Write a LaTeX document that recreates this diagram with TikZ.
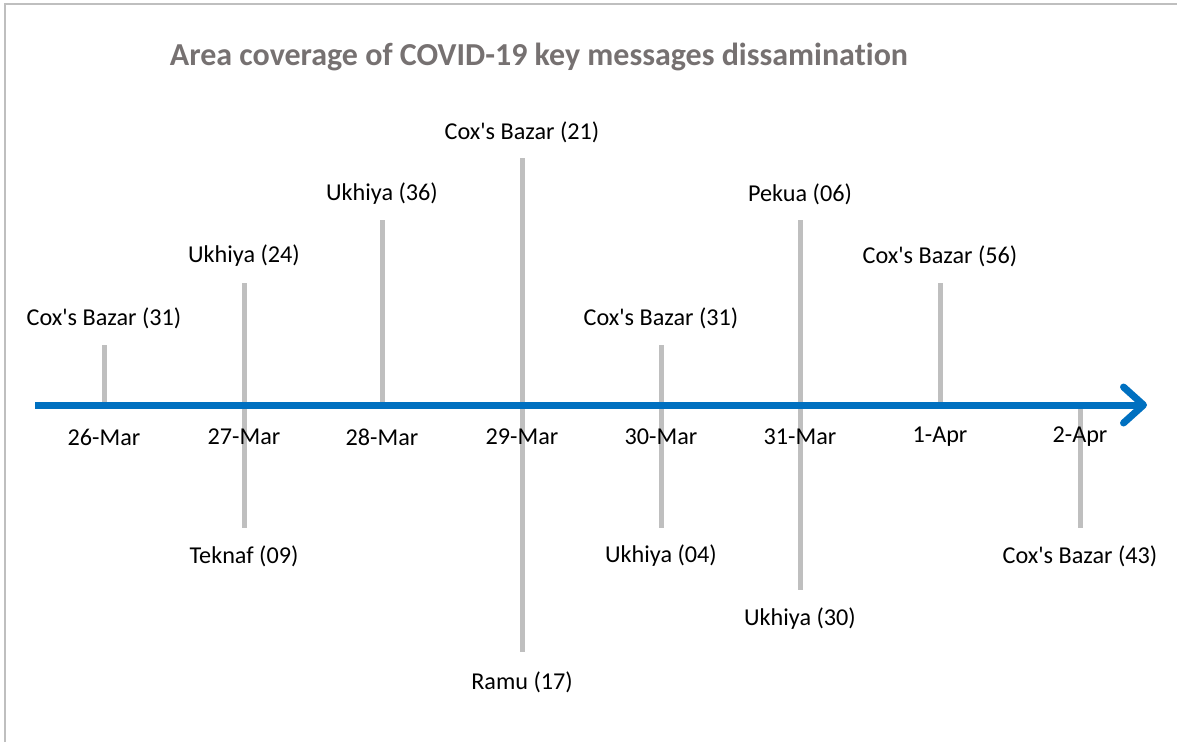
\documentclass[tikz,border=0pt]{standalone}
\usepackage{fontspec}
\setmainfont{Carlito}[Ligatures={TeXOff,CommonOff}]
\usetikzlibrary{arrows.meta}

\definecolor{axisblue}{HTML}{0070C0}
\definecolor{stemgray}{HTML}{BFBFBF}
\definecolor{titlegray}{HTML}{767171}

\begin{document}
\begin{tikzpicture}[x=1pt, y=-1pt,
    every node/.style={inner sep=0pt, font=\fontsize{24.2}{27}\selectfont},
    stem/.style={draw=stemgray, line width=5pt},
    axis/.style={draw=axisblue, line width=7pt, -{Straight Barb[length=20pt,width=36pt,round]}},
    heading/.style={text=titlegray, font=\fontsize{32}{36}\selectfont\bfseries}]

\useasboundingbox (0,0) rectangle (1177,742);
\draw[stemgray, line width=1.5pt] (5,742) -- (5,4) -- (1177,4);

\node[heading] (title) at (539,57) {Area coverage of COVID-19 key messages dissamination};

% points on the time line
\coordinate (d26) at (104,405);
\coordinate (d27) at (244,405);
\coordinate (d28) at (382,405);
\coordinate (d29) at (522,405);
\coordinate (d30) at (661,405);
\coordinate (d31) at (800,405);
\coordinate (d01) at (940,405);
\coordinate (d02) at (1080,405);

% ends of the stems
\coordinate (e26) at (104,345);
\coordinate (e27u) at (244,283);
\coordinate (e27d) at (244,528);
\coordinate (e28) at (382,220);
\coordinate (e29u) at (522,158);
\coordinate (e29d) at (522,652);
\coordinate (e30u) at (661,345);
\coordinate (e30d) at (661,528);
\coordinate (e31u) at (800,220);
\coordinate (e31d) at (800,590);
\coordinate (e01) at (940,283);
\coordinate (e02) at (1080,528);

\draw[stem] (d26) -- (e26);
\draw[stem] (e27u) -- (e27d);
\draw[stem] (d28) -- (e28);
\draw[stem] (e29u) -- (e29d);
\draw[stem] (e30u) -- (e30d);
\draw[stem] (e31u) -- (e31d);
\draw[stem] (d01) -- (e01);
\draw[stem] (d02) -- (e02);

\coordinate (start) at (35,405);
\coordinate (tip) at (1147,405);
\draw[axis] (start) -- (tip);

% dates
\node (m26) at (104,437) {26-Mar};
\node (m27) at (244,437) {27-Mar};
\node (m28) at (382,437) {28-Mar};
\node (m29) at (522,437) {29-Mar};
\node (m30) at (661,437) {30-Mar};
\node (m31) at (800,437) {31-Mar};
\node (m01) at (940,437) {1-Apr};
\node (m02) at (1080,437) {2-Apr};

% places
\node (p26) at (104,318) {Cox's Bazar (31)};
\node (p27u) at (244,256) {Ukhiya (24)};
\node (p27d) at (244,556) {Teknaf (09)};
\node (p28) at (382,194) {Ukhiya (36)};
\node (p29u) at (522,132) {Cox's Bazar (21)};
\node (p29d) at (522,682) {Ramu (17)};
\node (p30u) at (661,318) {Cox's Bazar (31)};
\node (p30d) at (661,556) {Ukhiya (04)};
\node (p31u) at (800,194) {Pekua (06)};
\node (p31d) at (800,619) {Ukhiya (30)};
\node (p01) at (940,256) {Cox's Bazar (56)};
\node (p02) at (1080,556) {Cox's Bazar (43)};

\end{tikzpicture}
\end{document}
